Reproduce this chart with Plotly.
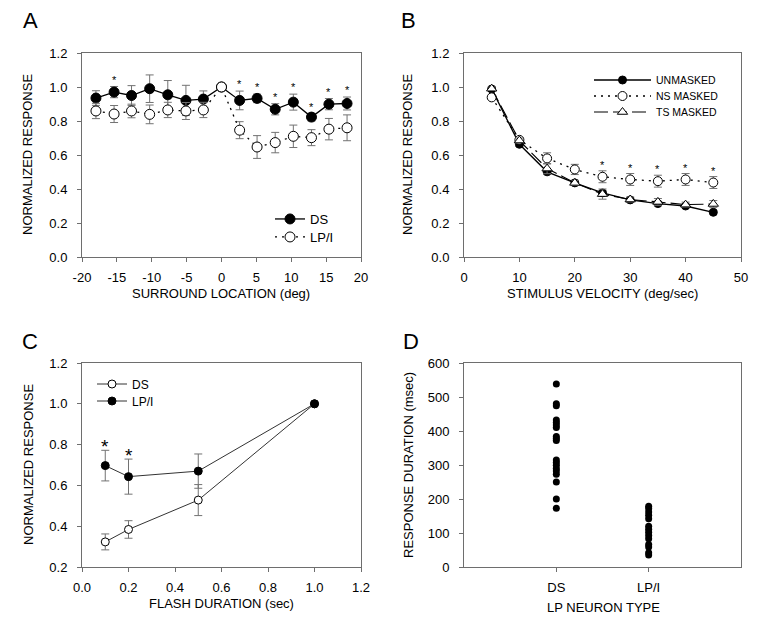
import plotly.graph_objects as go

# ---------------- Panel A data ----------------
a_loc = [-18.0, -15.4, -12.9, -10.3, -7.7, -5.1, -2.6, 0.0, 2.6, 5.1, 7.7, 10.3, 12.9, 15.4, 18.0]
a_ds = [0.935, 0.970, 0.950, 0.990, 0.954, 0.921, 0.929, 1.0, 0.921, 0.933, 0.869, 0.911, 0.823, 0.899, 0.903]
a_ds_err = [0.043, 0.033, 0.058, 0.081, 0.084, 0.089, 0.048, 0.0, 0.055, 0.025, 0.033, 0.047, 0.022, 0.033, 0.038]
a_lpi = [0.859, 0.841, 0.859, 0.839, 0.865, 0.859, 0.865, 1.0, 0.746, 0.647, 0.673, 0.710, 0.702, 0.752, 0.760]
a_lpi_err = [0.045, 0.050, 0.040, 0.055, 0.045, 0.050, 0.045, 0.0, 0.050, 0.067, 0.060, 0.066, 0.047, 0.063, 0.076]
a_sig_idx = [1, 8, 9, 10, 11, 12, 13, 14]
a_xticks = [-20, -15, -10, -5, 0, 5, 10, 15, 20]
a_xticktext = ["-20", "-15", "-10", "-5", "0", "5", "10", "15", "20"]

# ---------------- Panel B data ----------------
b_vel = [5, 10, 15, 20, 25, 30, 35, 40, 45]
b_unmasked = [0.988, 0.663, 0.501, 0.436, 0.377, 0.336, 0.314, 0.300, 0.263]
b_unmasked_err = [0.010, 0.012, 0.012, 0.012, 0.012, 0.012, 0.012, 0.010, 0.010]
b_ns = [0.939, 0.689, 0.580, 0.515, 0.472, 0.456, 0.446, 0.456, 0.438]
b_ns_err = [0.010, 0.015, 0.033, 0.030, 0.035, 0.035, 0.035, 0.035, 0.035]
b_ts = [0.990, 0.685, 0.520, 0.436, 0.370, 0.338, 0.324, 0.308, 0.312]
b_ts_err = [0.010, 0.015, 0.030, 0.015, 0.030, 0.015, 0.020, 0.015, 0.020]
b_sig_idx = [4, 5, 6, 7, 8]

# ---------------- Panel C data ----------------
c_dur = [0.1, 0.2, 0.5, 1.0]
c_ds = [0.323, 0.384, 0.528, 1.0]
c_ds_err = [0.039, 0.043, 0.076, 0.0]
c_lpi = [0.697, 0.643, 0.670, 1.0]
c_lpi_err = [0.075, 0.086, 0.084, 0.0]
c_sig_idx = [0, 1]

# ---------------- Panel D data ----------------
d_types = ["DS", "LP/I"]
d_ds = [538, 480, 474, 432, 425, 418, 410, 384, 378, 372, 315, 307, 299, 290, 282, 273, 250, 200, 173]
d_lpi = [179, 172, 162, 152, 142, 120, 111, 102, 93, 83, 66, 59, 42, 35]

# The page body has an 8px margin, so the figure is drawn 8px smaller and
# every layout position below is given in window pixels and shifted by it.
OFF = 8
W, H = 759 - OFF, 629 - OFF
def px(x):
    return (x - OFF) / W
def py(y):
    return 1 - (y - OFF) / H

FONT = "Liberation Sans, Arial, sans-serif"
AX = "#6e6e6e"
ERR = "#727272"

fig = go.Figure()

# Panel A
fig.add_trace(go.Scatter(
    x=a_loc, y=a_ds, name="DS", mode="lines+markers", xaxis="x", yaxis="y", legend="legend",
    line=dict(color="black", width=1.3),
    marker=dict(symbol="circle", size=10, color="black", line=dict(color="black", width=1)),
    error_y=dict(type="data", array=a_ds_err, color=ERR, thickness=1, width=4)))
fig.add_trace(go.Scatter(
    x=a_loc, y=a_lpi, name="LP/I", mode="lines+markers", xaxis="x", yaxis="y", legend="legend2",
    line=dict(color="black", width=1.3, dash="2px,5px"),
    marker=dict(symbol="circle", size=10, color="white", line=dict(color="black", width=1)),
    error_y=dict(type="data", array=a_lpi_err, color=ERR, thickness=1, width=4)))

# Panel B
fig.add_trace(go.Scatter(
    x=b_vel, y=b_unmasked, name="UNMASKED", mode="lines+markers", xaxis="x2", yaxis="y2", legend="legend3",
    line=dict(color="black", width=1.3),
    marker=dict(symbol="circle", size=8, color="black", line=dict(color="black", width=1)),
    error_y=dict(type="data", array=b_unmasked_err, color=ERR, thickness=1, width=4)))
fig.add_trace(go.Scatter(
    x=b_vel, y=b_ns, name="NS MASKED", mode="lines+markers", xaxis="x2", yaxis="y2", legend="legend4",
    line=dict(color="black", width=1.3, dash="2px,5px"),
    marker=dict(symbol="circle", size=9, color="white", line=dict(color="black", width=1)),
    error_y=dict(type="data", array=b_ns_err, color=ERR, thickness=1, width=4)))
fig.add_trace(go.Scatter(
    x=b_vel, y=b_ts, name="TS MASKED", mode="lines+markers", xaxis="x2", yaxis="y2", legend="legend5",
    line=dict(color="black", width=1.1, dash="14px,5px"),
    marker=dict(symbol="triangle-up", size=9, color="white", line=dict(color="black", width=1)),
    error_y=dict(type="data", array=b_ts_err, color=ERR, thickness=1, width=4)))

# Panel C
fig.add_trace(go.Scatter(
    x=c_dur, y=c_ds, name="DS", mode="lines+markers", xaxis="x3", yaxis="y3", legend="legend6",
    line=dict(color="#333333", width=1),
    marker=dict(symbol="circle", size=8, color="white", line=dict(color="black", width=1)),
    error_y=dict(type="data", array=c_ds_err, color=ERR, thickness=1, width=4)))
fig.add_trace(go.Scatter(
    x=c_dur, y=c_lpi, name="LP/I", mode="lines+markers", xaxis="x3", yaxis="y3", legend="legend7",
    line=dict(color="#333333", width=1),
    marker=dict(symbol="circle", size=8, color="black", line=dict(color="black", width=1)),
    error_y=dict(type="data", array=c_lpi_err, color=ERR, thickness=1, width=4)))

# Panel D
fig.add_trace(go.Scatter(
    x=[1] * len(d_ds), y=d_ds, mode="markers", xaxis="x4", yaxis="y4", showlegend=False,
    marker=dict(symbol="circle", size=7, color="black")))
fig.add_trace(go.Scatter(
    x=[2] * len(d_lpi), y=d_lpi, mode="markers", xaxis="x4", yaxis="y4", showlegend=False,
    marker=dict(symbol="circle", size=7, color="black")))

tickfont = dict(family=FONT, size=13, color="black")

def axis(domain, rng, anchor, letter, **kw):
    d = dict(domain=domain, range=rng, anchor=anchor, showline=True, linecolor=AX, linewidth=1,
             mirror=True, ticks="outside", ticklen=4, tickcolor=AX, showgrid=False, zeroline=False,
             tickfont=tickfont, fixedrange=True, automargin=False,
             ticklabelstandoff=7 if letter == "y" else 4)
    d.update(kw)
    return d

xA = [px(82), px(361)]
xB = [px(464), px(741)]
yTop = [py(257), py(53)]
yBot = [py(567), py(363)]

def leg(x, y, size, itemwidth=30):
    return dict(x=px(x), y=py(y), xanchor="left", yanchor="middle", bgcolor="rgba(0,0,0,0)",
                font=dict(family=FONT, size=size, color="black"), itemwidth=itemwidth,
                borderwidth=0)

layout = dict(
    width=W, height=H, margin=dict(l=0, r=0, t=0, b=0, pad=0, autoexpand=False),
    paper_bgcolor="white", plot_bgcolor="white",
    font=dict(family=FONT, size=13, color="black"),
    xaxis=axis(xA, [-20, 20], "y", "x", tickvals=a_xticks, ticktext=a_xticktext),
    yaxis=axis(yTop, [0, 1.2], "x", "y", tickvals=[0, 0.2, 0.4, 0.6, 0.8, 1.0, 1.2], tickformat=".1f"),
    xaxis2=axis(xB, [0, 50], "y2", "x", tickvals=[0, 10, 20, 30, 40, 50]),
    yaxis2=axis(yTop, [0, 1.2], "x2", "y", tickvals=[0, 0.2, 0.4, 0.6, 0.8, 1.0, 1.2], tickformat=".1f"),
    xaxis3=axis(xA, [0, 1.2], "y3", "x", tickvals=[0, 0.2, 0.4, 0.6, 0.8, 1.0, 1.2], tickformat=".1f"),
    yaxis3=axis(yBot, [0.2, 1.2], "x3", "y", tickvals=[0.2, 0.4, 0.6, 0.8, 1.0, 1.2], tickformat=".1f"),
    xaxis4=axis(xB, [0, 3], "y4", "x", tickvals=[1, 2], ticktext=d_types),
    yaxis4=axis(yBot, [0, 600], "x4", "y", tickvals=[0, 100, 200, 300, 400, 500, 600]),
    legend=leg(270, 219, 13),
    legend2=leg(270, 237, 13),
    legend3=leg(589, 80, 10.5, 57),
    legend4=leg(589, 96, 10.5, 57),
    legend5=leg(589, 112, 10.5, 57),
    legend6=leg(92, 384, 12),
    legend7=leg(92, 401, 12),
    showlegend=True,
)

ann = []
# Panel letters
for letter, (lx, ly) in zip(["A", "B", "C", "D"], [(30, 21), (408, 21), (30, 341), (411, 341)]):
    ann.append(dict(text=letter, x=px(lx), y=py(ly), xref="paper", yref="paper", showarrow=False,
                    xanchor="center", yanchor="middle", font=dict(family=FONT, size=22, color="black")))
# Axis titles
titles = [
    ("SURROUND LOCATION (deg)", 221, 293, 0),
    ("STIMULUS VELOCITY (deg/sec)", 602, 293, 0),
    ("FLASH DURATION (sec)", 221, 603, 0),
    ("LP NEURON TYPE", 603, 607, 0),
    ("NORMALIZED RESPONSE", 28, 155, -90),
    ("NORMALIZED RESPONSE", 408, 155, -90),
    ("NORMALIZED RESPONSE", 28, 465, -90),
    ("RESPONSE DURATION (msec)", 408, 465, -90),
]
for t, tx, ty, rot in titles:
    ann.append(dict(text=t, x=px(tx), y=py(ty), xref="paper", yref="paper", showarrow=False,
                    xanchor="center", yanchor="middle", textangle=rot,
                    font=dict(family=FONT, size=13, color="black")))
# Significance asterisks
for i in a_sig_idx:
    ann.append(dict(text="*", x=a_loc[i], y=a_ds[i] + a_ds_err[i] + 0.04, xref="x", yref="y",
                    showarrow=False, yanchor="middle", font=dict(family=FONT, size=11, color="#000000")))
for i in b_sig_idx:
    ann.append(dict(text="*", x=b_vel[i], y=b_ns[i] + b_ns_err[i] + 0.035, xref="x2", yref="y2",
                    showarrow=False, yanchor="middle", font=dict(family=FONT, size=11, color="#000000")))
for i in c_sig_idx:
    ann.append(dict(text="*", x=c_dur[i], y=c_lpi[i] + c_lpi_err[i] + 0.02, xref="x3", yref="y3",
                    showarrow=False, yanchor="middle", font=dict(family=FONT, size=19, color="#000000")))
layout["annotations"] = ann

fig.update_layout(**layout)
fig.write_html("out.html")
